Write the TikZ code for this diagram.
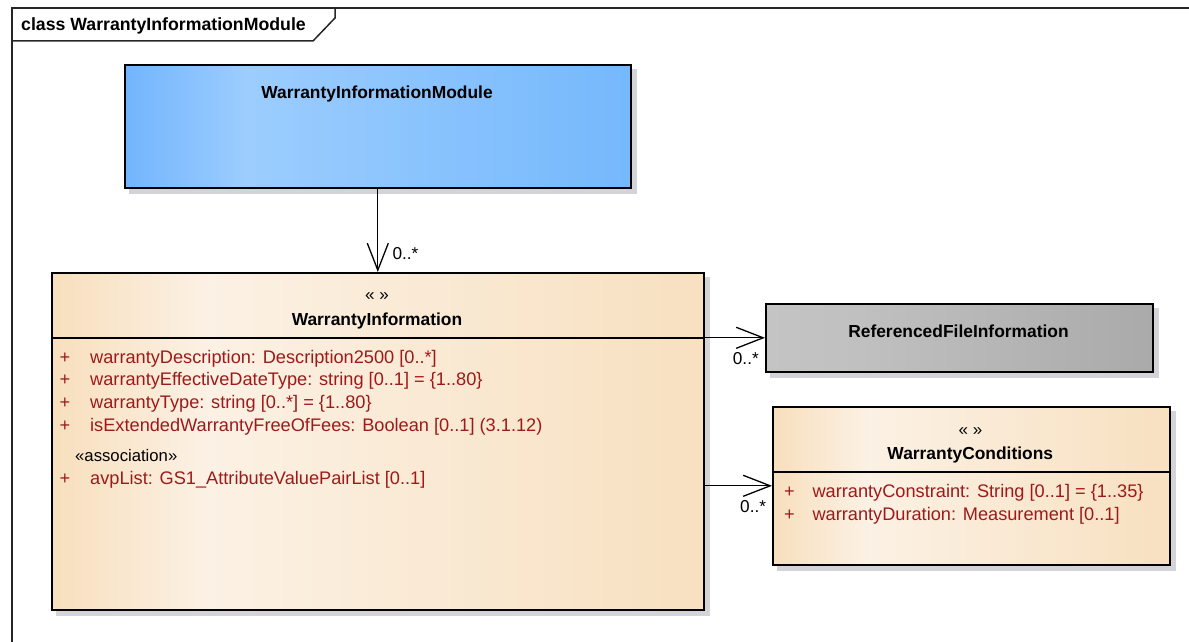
\documentclass[tikz,border=0pt]{standalone}
\usepackage{fontspec}
\setmainfont{Liberation Sans}
\usetikzlibrary{arrows.meta,backgrounds,calc}
\definecolor{blueL}{RGB}{114,181,253}
\definecolor{blueM}{RGB}{156,205,254}
\definecolor{blueR}{RGB}{117,184,252}
\definecolor{orL}{RGB}{248,223,189}
\definecolor{orM}{RGB}{251,241,228}
\definecolor{orR}{RGB}{248,224,192}
\definecolor{grL}{RGB}{196,196,196}
\definecolor{grM}{RGB}{192,192,192}
\definecolor{grR}{RGB}{170,170,170}
\definecolor{attr}{RGB}{158,26,26}
\definecolor{shadowc}{RGB}{212,212,216}
\pgfdeclarehorizontalshading{blueshade}{100bp}{color(0bp)=(blueL); color(25bp)=(blueL); color(37bp)=(blueM); color(75bp)=(blueR); color(100bp)=(blueR)}
\pgfdeclarehorizontalshading{orshade}{100bp}{color(0bp)=(orL); color(25bp)=(orL); color(37bp)=(orM); color(75bp)=(orR); color(100bp)=(orR)}
\pgfdeclarehorizontalshading{grshade}{100bp}{color(0bp)=(grL); color(25bp)=(grL); color(37bp)=(grM); color(75bp)=(grR); color(100bp)=(grR)}
\begin{document}
\begin{tikzpicture}[x=1pt,y=-1pt,
  box/.style={draw=black, line width=1.6pt, inner sep=0pt, anchor=north west},
  namef/.style={font=\fontsize{17.4}{20}\selectfont\bfseries, inner sep=0pt, anchor=base},
  stf/.style={font=\fontsize{17}{20}\selectfont, inner sep=0pt},
  attrf/.style={font=\fontsize{18.2}{22}\selectfont, text=attr, inner sep=0pt, anchor=base west},
  plusf/.style={font=\fontsize{18.2}{22}\selectfont, text=attr, inner sep=0pt, anchor=base},
  multf/.style={font=\fontsize{17.2}{20}\selectfont, inner sep=0pt, anchor=base west},
  assocline/.style={line width=1.3pt, -{Straight Barb[length=27pt,width=21pt]}},
  divider/.style={line width=1.5pt},
  framel/.style={line width=1.5pt, draw=black!85}
]
\useasboundingbox (0,0) rectangle (1189,642);
% frame
\draw[framel] (12,660) -- (12,8) -- (1200,8);
\draw[framel] (12,41) -- (313,41) -- (335,18) -- (335,8);
\node[font=\fontsize{17.7}{20}\selectfont\bfseries, anchor=base west, inner sep=0pt] (title) at (21,31) {class WarrantyInformationModule};

% boxes
\node[box, shading=blueshade, minimum width=506pt, minimum height=123pt] (wim) at (124,64) {};
\node[box, shading=orshade, minimum width=652pt, minimum height=337pt] (wi) at (51,272) {};
\node[box, shading=grshade, minimum width=387pt, minimum height=68pt] (rfi) at (765,303) {};
\node[box, shading=orshade, minimum width=397pt, minimum height=158pt] (wc) at (772,406) {};

\begin{scope}[on background layer]
\foreach \n in {wim,wi,rfi,wc}
  \fill[shadowc] ($(\n.north west)+(5,5)$) rectangle ($(\n.south east)+(5,5)$);
\end{scope}

\draw[divider] ($(wi.north west)+(0,66)$) -- ($(wi.north east)+(0,66)$);
\draw[divider] ($(wc.north west)+(0,66)$) -- ($(wc.north east)+(0,66)$);

% texts
\node[namef] (wimname) at (377,99) {WarrantyInformationModule};

\node[stf] (wist) at (377,297) {« »};
\node[namef] (winame) at (377,325) {WarrantyInformation};
\node[plusf] (wip1) at (65,363.3) {+};
\node[attrf] (wia1) at (90,363.3) {warrantyDescription: Description2500 [0..*]};
\node[plusf] (wip2) at (65,385.7) {+};
\node[attrf] (wia2) at (90,385.7) {warrantyEffectiveDateType: string [0..1] = \{1..80\}};
\node[plusf] (wip3) at (65,408.3) {+};
\node[attrf] (wia3) at (90,408.3) {warrantyType: string [0..*] = \{1..80\}};
\node[plusf] (wip4) at (65,431) {+};
\node[attrf] (wia4) at (90,431) {isExtendedWarrantyFreeOfFees: Boolean [0..1] (3.1.12)};
\node[font=\fontsize{16.7}{20}\selectfont, anchor=base west, inner sep=0pt] (wiassoc) at (75,461.3) {«association»};
\node[plusf] (wip5) at (65,484.3) {+};
\node[attrf] (wia5) at (90,484.3) {avpList: GS1\_AttributeValuePairList [0..1]};

\node[namef] (rfiname) at (958.5,337.7) {ReferencedFileInformation};

\node[stf] (wcst) at (970.5,431.7) {« »};
\node[namef] (wcname) at (970.3,459.3) {WarrantyConditions};
\node[plusf] (wcp1) at (789.5,497.3) {+};
\node[attrf] (wca1) at (812.3,497.3) {warrantyConstraint: String [0..1] = \{1..35\}};
\node[plusf] (wcp2) at (789.5,520) {+};
\node[attrf] (wca2) at (812.3,520) {warrantyDuration: Measurement [0..1]};

% connectors
\draw[assocline] (wim.south) -- (wi.north);
\draw[assocline] (wi.east |- rfi.west) -- (rfi.west);
\draw[assocline] (wi.east |- wc.west) -- (wc.west);
\node[multf] (m1) at (392.3,259.3) {0..*};
\node[multf] (m2) at (732.7,364) {0..*};
\node[multf] (m3) at (740,512.7) {0..*};
\end{tikzpicture}
\end{document}
